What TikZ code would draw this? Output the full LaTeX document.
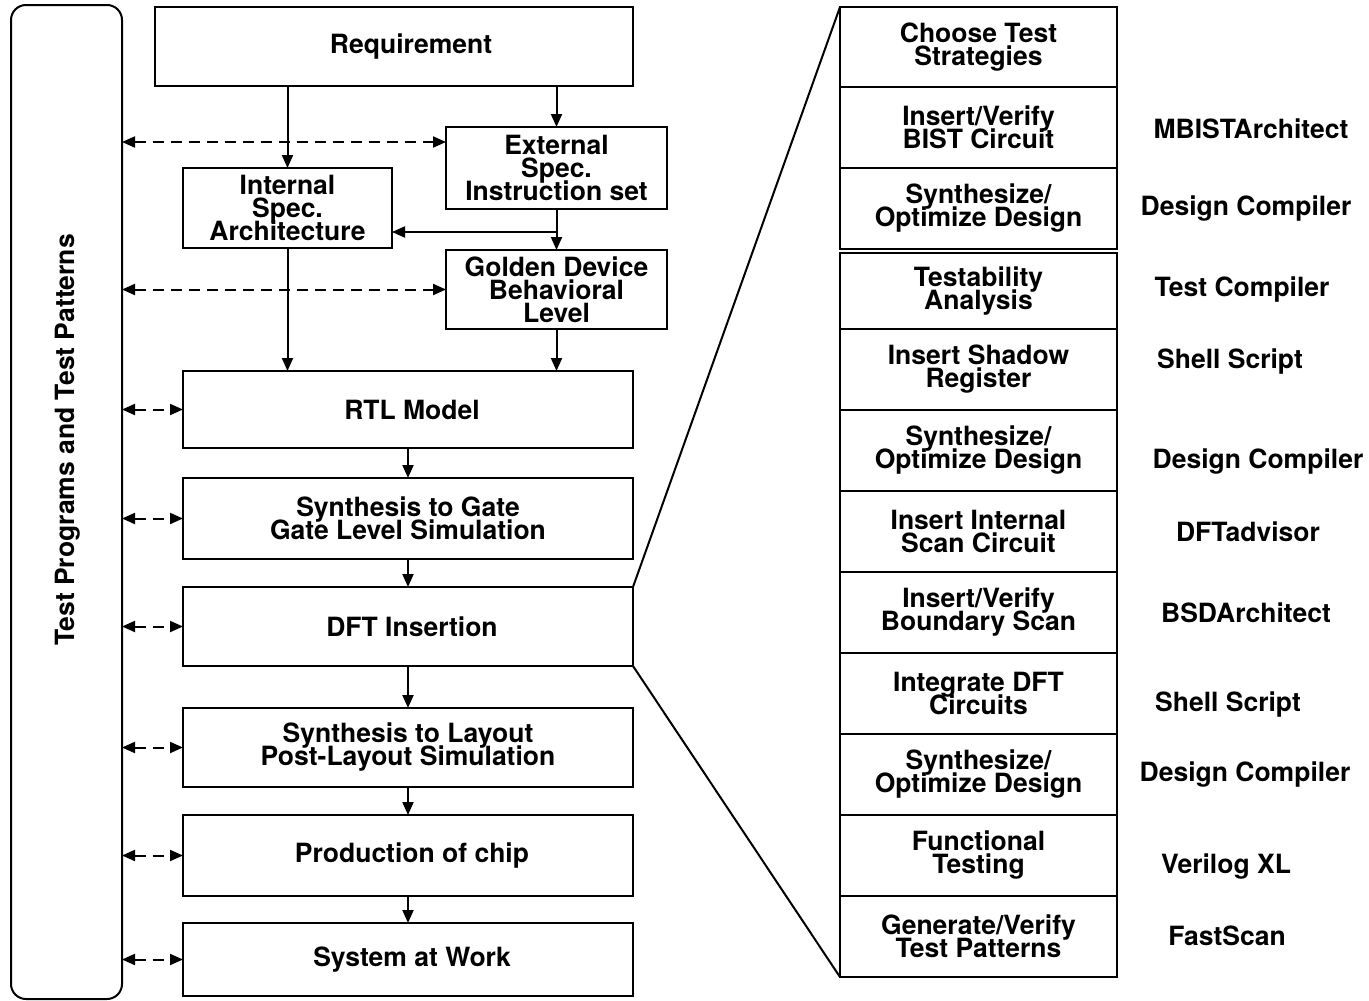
\documentclass[tikz,border=0pt]{standalone}
\usepackage{fontspec}
\setmainfont{TeX Gyre Heros}
\usetikzlibrary{arrows.meta}
\usetikzlibrary{positioning}
\tikzset{
    Box/.style = {draw=black, line width=2pt, align=center, inner sep=0pt, outer sep=0pt}
}
\tikzset{
    Edge/.style = {draw=black, line width=2pt, -{Triangle[length=13pt,width=11pt]}}
}

\begin{document}
\begin{tikzpicture}[
    x=1pt, y=-1pt,
    font=\fontsize{26.5}{23}\selectfont\bfseries\setlength{\lineskiplimit}{-30pt}
]
\tikzset{
    Dash/.style = {Edge, dash pattern=on 11pt off 7pt, {Triangle[length=13pt,width=11pt]}-{Triangle[length=13pt,width=11pt]}},
    Step/.style = {Box, minimum width=277, minimum height=81},
    Flow/.style = {Box, minimum width=450},
}
\useasboundingbox (0,0) rectangle (1369,1001);

% test programs column
\node[Box, rounded corners=15pt, minimum width=111, minimum height=994] (tp) at (66.5,502) {};
\node[rotate=90] (tplabel) at (68,440) {Test Programs and Test Patterns};

% design flow
\node[Box, minimum width=478, minimum height=79] (req) at (394,46.5) {\hspace*{34pt}Requirement};
\node[Box, minimum width=221, minimum height=82] (ext) at (556.5,168) {External\\Spec.\\Instruction set};
\node[Box, minimum width=209, minimum height=80] (int) at (287.5,208) {Internal\\Spec.\\Architecture};
\node[Box, minimum width=221, minimum height=79] (gold) at (556.5,289.5) {Golden Device\\Behavioral\\Level};
\node[Flow, minimum height=77] (rtl) at (408,409.5) {\hspace*{8pt}RTL Model};
\node[Flow, minimum height=81] (syng) at (408,518.5) {Synthesis to Gate\\Gate Level Simulation};
\node[Flow, minimum height=79] (dft) at (408,626.5) {\hspace*{8pt}DFT Insertion};
\node[Flow, minimum height=79] (synl) at (408,747.5) {Synthesis to Layout\\Post-Layout Simulation};
\node[Flow, minimum height=81] (prod) at (408,855.5) {\hspace*{8pt}Production of chip};
\node[Flow, minimum height=73] (sys) at (408,959.5) {\hspace*{8pt}System at Work};

\coordinate (br) at (556.5,232);
\coordinate (extin) at ([yshift=-15pt]ext.north west);

\draw[Edge] (req.south -| int.north) -- (int.north);
\draw[Edge] (req.south -| ext.north) -- (ext.north);
\draw[Edge] (ext.south) -- (gold.north);
\draw[Edge] (br) -- (br -| int.east);
\draw[Edge] (int.south) -- (rtl.north -| int.south);
\draw[Edge] (gold.south) -- (rtl.north -| gold.south);
\path (rtl) edge [Edge] (syng);
\path (syng) edge [Edge] (dft);
\path (dft) edge [Edge] (synl);
\path (synl) edge [Edge] (prod);
\path (prod) edge [Edge] (sys);

\draw[Dash] (tp.east |- extin) -- (extin);
\draw[Dash] (tp.east |- gold.west) -- (gold.west);
\draw[Dash] (tp.east |- rtl.west) -- (rtl.west);
\draw[Dash] (tp.east |- syng.west) -- (syng.west);
\draw[Dash] (tp.east |- dft.west) -- (dft.west);
\draw[Dash] (tp.east |- synl.west) -- (synl.west);
\draw[Dash] (tp.east |- prod.west) -- (prod.west);
\draw[Dash] (tp.east |- sys.west) -- (sys.west);

% DFT steps
\node[Step, minimum height=80] (s1) at (978.5,47) {Choose Test\\Strategies};
\node[Step, below=0pt of s1] (s2) {Insert/Verify\\BIST Circuit};
\node[Step, below=0pt of s2] (s3) {Synthesize/\\Optimize Design};
\node[Step, minimum height=76] (s4) at (978.5,291) {Testability\\Analysis};
\node[Step, below=0pt of s4] (s5) {Insert Shadow\\Register};
\node[Step, below=0pt of s5] (s6) {Synthesize/\\Optimize Design};
\node[Step, below=0pt of s6] (s7) {Insert Internal\\Scan Circuit};
\node[Step, below=0pt of s7] (s8) {Insert/Verify\\Boundary Scan};
\node[Step, below=0pt of s8] (s9) {Integrate DFT\\Circuits};
\node[Step, below=0pt of s9] (s10) {Synthesize/\\Optimize Design};
\node[Step, below=0pt of s10] (s11) {Functional\\Testing};
\node[Step, below=0pt of s11] (s12) {Generate/Verify\\Test Patterns};

\draw[line width=2pt] (dft.north east) -- (s1.north west);
\draw[line width=2pt] (dft.south east) -- (s12.south west);

% tools
\node (t2) at (1251,129) {MBISTArchitect};
\node (t3) at (1246,209) {Design Compiler};
\node (t4) at (1242,290) {Test Compiler};
\node (t5) at (1230,362) {Shell Script};
\node (t6) at (1258,462) {Design Compiler};
\node (t7) at (1248,532) {DFTadvisor};
\node (t8) at (1246,613) {BSDArchitect};
\node (t9) at (1228,705) {Shell Script};
\node (t10) at (1245,775) {Design Compiler};
\node (t11) at (1226,867) {Verilog XL};
\node (t12) at (1227,936) {FastScan};
\end{tikzpicture}
\end{document}
